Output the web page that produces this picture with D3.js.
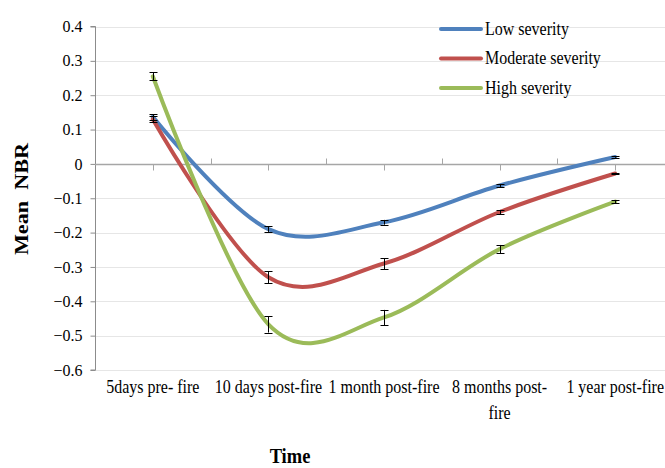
<!DOCTYPE html>
<html><head><meta charset="utf-8">
<script src="https://cdn.jsdelivr.net/npm/d3@7"></script>
<style>body{margin:0;background:#fff}svg{display:block}</style>
</head><body>
<svg id="c" width="665" height="468"></svg>
<script>
const categories = ["5days pre- fire","10 days post-fire","1 month post-fire","8 months post-fire","1 year post-fire"];
const categoryLines = [["5days pre- fire"],["10 days post-fire"],["1 month post-fire"],["8 months post-","fire"],["1 year post-fire"]];
const seriesNames = ["Low severity","Moderate severity","High severity"];
const lowValues = [0.137, -0.19, -0.17, -0.063, 0.02];
const moderateValues = [0.13, -0.33, -0.29, -0.14, -0.028];
const highValues = [0.255, -0.467, -0.447, -0.248, -0.11];
const lowErrors = [0.008, 0.008, 0.007, 0.004, 0.002];
const moderateErrors = [0.008, 0.018, 0.016, 0.006, 0.002];
const highErrors = [0.012, 0.024, 0.022, 0.012, 0.004];
const yTicks = [0.4,0.3,0.2,0.1,0,-0.1,-0.2,-0.3,-0.4,-0.5,-0.6];
const colors = ["#4F81BD","#C0504D","#9BBB59"];

const series = [
  {name: seriesNames[0], values: lowValues, errors: lowErrors, color: colors[0]},
  {name: seriesNames[1], values: moderateValues, errors: moderateErrors, color: colors[1]},
  {name: seriesNames[2], values: highValues, errors: highErrors, color: colors[2]}
];

const svg = d3.select("#c");
const font = "'Liberation Serif','Times New Roman',serif";
const pLeft = 95, pRight = 673, pTop = 26.5, pBottom = 370;
const x = d3.scalePoint().domain(categories).range([pLeft, pRight]).padding(0.5);
const xb = d3.scaleBand().domain(categories).range([pLeft, pRight]);
const y = d3.scaleLinear().domain([-0.6, 0.4]).range([pBottom, pTop]);

// gridlines
svg.append("g").selectAll("line").data(yTicks.filter(d => d !== 0)).join("line")
  .attr("x1", pLeft).attr("x2", 665).attr("y1", d => Math.round(y(d)) + 0.5).attr("y2", d => Math.round(y(d)) + 0.5)
  .attr("stroke", "#e6e6e6").attr("stroke-width", 1);

// y axis
const yAxis = d3.axisLeft(y).tickValues(yTicks).tickSize(5).tickPadding(8)
  .tickFormat(d => d === 0 ? "0" : d3.format(".1f")(d));
const yg = svg.append("g").attr("transform", `translate(${pLeft + 0.5},0)`).call(yAxis);
yg.select(".domain").attr("stroke", "#8c8c8c").attr("d", `M-5,${y(0.4)}H0V${y(-0.6)}H-5`);
yg.selectAll(".tick line").attr("stroke", "#8c8c8c");
yg.selectAll(".tick text").attr("font-family", font).attr("font-size", 16).attr("fill", "#000");

// zero axis line
const y0 = Math.round(y(0)) + 0.5;
svg.append("line").attr("x1", pLeft).attr("x2", 665).attr("y1", y0).attr("y2", y0)
  .attr("stroke", "#a6a6a6").attr("stroke-width", 1.5);
// boundary ticks (up) and center ticks (down)
svg.append("g").selectAll("line").data(categories.slice(1)).join("line")
  .attr("x1", d => Math.round(xb(d)) + 0.5).attr("x2", d => Math.round(xb(d)) + 0.5)
  .attr("y1", y0).attr("y2", y0 - 6).attr("stroke", "#a6a6a6");
svg.append("g").selectAll("line").data(categories).join("line")
  .attr("x1", d => Math.round(x(d)) + 0.5).attr("x2", d => Math.round(x(d)) + 0.5)
  .attr("y1", y0).attr("y2", y0 + 6).attr("stroke", "#a6a6a6");

// x category labels
const xl = svg.append("g").selectAll("text").data(categories).join("text")
  .attr("transform", d => `translate(${x(d)},393) scale(1,1.12)`)
  .attr("text-anchor", "middle").attr("font-family", font).attr("font-size", 16).attr("fill", "#000");
xl.each(function(d, i) {
  d3.select(this).selectAll("tspan").data(categoryLines[i]).join("tspan")
    .attr("x", 0).attr("dy", (t, j) => j === 0 ? 0 : 23.5).text(t => t);
});

// lines
const line = d3.line().x((d, i) => x(categories[i])).y(d => y(d)).curve(d3.curveCardinal.tension(0));
svg.append("g").selectAll("path").data(series).join("path")
  .attr("d", s => line(s.values)).attr("fill", "none")
  .attr("stroke", s => s.color).attr("stroke-width", 4).attr("stroke-linecap", "round");

// error bars
series.forEach(s => {
  const g = svg.append("g").attr("stroke", "#000").attr("stroke-width", 1);
  s.values.forEach((v, i) => {
    const cx = Math.round(x(categories[i])) + 0.5;
    const y1 = y(v + s.errors[i]), y2 = y(v - s.errors[i]);
    g.append("line").attr("x1", cx).attr("x2", cx).attr("y1", y1).attr("y2", y2);
    g.append("line").attr("x1", cx - 4).attr("x2", cx + 4).attr("y1", Math.round(y1) + 0.5).attr("y2", Math.round(y1) + 0.5);
    g.append("line").attr("x1", cx - 4).attr("x2", cx + 4).attr("y1", Math.round(y2) + 0.5).attr("y2", Math.round(y2) + 0.5);
  });
});

// legend
const lg = svg.append("g").selectAll("g").data(series).join("g")
  .attr("transform", (d, i) => `translate(441,${29 + i * 29.5})`);
lg.append("line").attr("x1", 0).attr("x2", 40).attr("stroke", d => d.color).attr("stroke-width", 4).attr("stroke-linecap", "round");
lg.append("text").attr("transform", "translate(44,5.5) scale(1,1.12)").attr("font-family", font).attr("font-size", 16).attr("fill", "#000").text(d => d.name);

// axis titles
svg.append("text").attr("transform", "translate(290,462.5) scale(1,1.15)")
  .attr("text-anchor", "middle").attr("font-family", font).attr("font-weight", "bold").attr("font-size", 18.5).text("Time");
svg.append("text").attr("transform", "translate(28,199) scale(1,1.2) rotate(-90)")
  .attr("text-anchor", "middle").attr("font-family", font).attr("font-weight", "bold").attr("font-size", 18.5)
  .attr("xml:space", "preserve").style("white-space", "pre").text("Mean  NBR");
</script>
</body></html>
